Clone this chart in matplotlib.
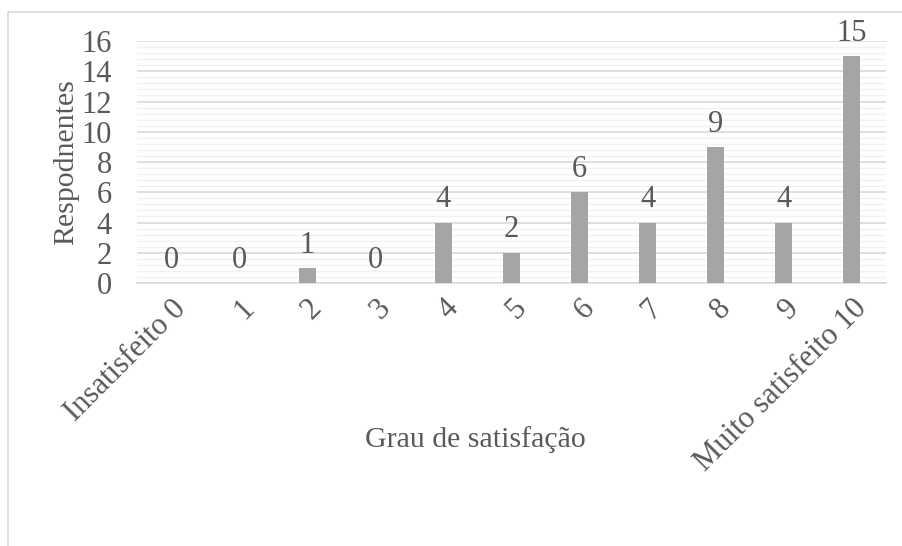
import numpy as np
import matplotlib.pyplot as plt
from matplotlib.patches import Rectangle

plt.rcParams['font.family'] = ['Liberation Serif', 'DejaVu Serif']

# Survey answers: satisfaction grade vs number of respondents
categories = ['Insatisfeito 0', '1', '2', '3', '4', '5', '6', '7', '8', '9', 'Muito satisfeito 10']
respondents = [0, 0, 1, 0, 4, 2, 6, 4, 9, 4, 15]

text_col = '#595959'
bar_col = '#A5A5A5'
fs = 22

fig = plt.figure(figsize=(9.03, 5.46), dpi=100)
W, H = 903, 546
ax = fig.add_axes([137 / W, 1 - 283 / H, 749 / W, 242 / H])

# chart area border
fig.patches.append(Rectangle((8 / W, -0.1), 1.2, 1 - 12 / H + 0.1, transform=fig.transFigure,
                             fill=False, edgecolor='#D9D9D9', linewidth=1.2))

x = np.arange(len(categories))
bars = ax.bar(x, respondents, width=0.25, color=bar_col, zorder=3)

for xi, v in zip(x, respondents):
    ax.annotate(str(v), (xi, v), xytext=(0, 6), textcoords='offset points',
                ha='center', va='bottom', fontsize=fs, color=text_col)

ax.set_xlim(-0.5, len(categories) - 0.5)
ax.set_ylim(0, 16)
ax.set_yticks(np.arange(0, 17, 2))
ax.set_yticks(np.arange(0, 16.01, 0.4), minor=True)
ax.grid(axis='y', which='major', color='#D9D9D9', linewidth=1.2, zorder=0)
ax.grid(axis='y', which='minor', color='#F2F2F2', linewidth=1.0, zorder=0)

for s in ['top', 'right', 'left']:
    ax.spines[s].set_visible(False)
ax.spines['bottom'].set_color('#D9D9D9')
ax.spines['bottom'].set_linewidth(1.2)
ax.tick_params(axis='both', which='both', length=0)
ax.tick_params(axis='y', labelsize=fs, labelcolor=text_col, pad=18)
ax.tick_params(axis='x', labelsize=fs, labelcolor=text_col, pad=8)

ax.set_xticks(x)
ax.set_xticklabels(categories, rotation=45, ha='right', rotation_mode='anchor')

ax.set_ylabel('Respodnentes', fontsize=21.5, color=text_col, labelpad=2)
fig.text(475 / W, 1 - 440 / H, 'Grau de satisfação', fontsize=21.5, color=text_col,
         ha='center', va='center')

fig.savefig('out.png', dpi=100)
